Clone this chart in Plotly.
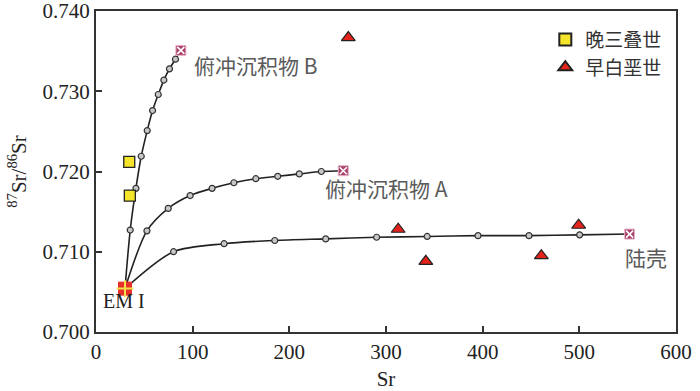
import plotly.graph_objects as go

# 端元
em_x = [30]
em_y = [0.7054]

# 混合曲线 B（EM I -> 俯冲沉积物 B）
b_x = [30, 35.4, 41.3, 46.8, 53.0, 58.5, 64.4, 70.2, 76.0, 82.2, 87.8]
b_y = [0.7054, 0.7127, 0.7179, 0.7219, 0.7251, 0.7276, 0.7296, 0.7314, 0.7328, 0.7340, 0.7351]

# 混合曲线 A（EM I -> 俯冲沉积物 A）
a_x = [30, 52.7, 74.7, 97.4, 120.1, 142.6, 165.3, 188.0, 210.3, 233.1, 255.8]
a_y = [0.7054, 0.7126, 0.7154, 0.7170, 0.7179, 0.7186, 0.7191, 0.7194, 0.7197, 0.7200, 0.7201]

# 混合曲线（EM I -> 陆壳）
c_x = [30, 80.2, 132.5, 184.9, 237.6, 290.3, 342.6, 395.2, 447.9, 500.3, 552]
c_y = [0.7054, 0.7100, 0.7110, 0.7114, 0.7116, 0.7118, 0.7119, 0.7120, 0.7120, 0.7121, 0.7122]

# 样品
tri_x = [261, 312.6, 341.2, 460.7, 499.3]
tri_y = [0.7367, 0.7128, 0.7088, 0.7095, 0.7133]
sq_x = [34.4, 35.0]
sq_y = [0.7212, 0.7170]

x_ticks = [0, 100, 200, 300, 400, 500, 600]
y_ticks = [0.700, 0.710, 0.720, 0.730, 0.740]

serif = "Liberation Serif, Noto Sans CJK SC, serif"
cjk = "Noto Sans CJK SC, serif"

fig = go.Figure()

for xs, ys in [(b_x, b_y), (a_x, a_y), (c_x, c_y)]:
    fig.add_trace(go.Scatter(
        x=xs, y=ys, mode="lines", line=dict(color="#222", width=1.6, shape="spline", smoothing=0.8),
        showlegend=False, hoverinfo="skip"))
    fig.add_trace(go.Scatter(
        x=xs[1:-1], y=ys[1:-1], mode="markers",
        marker=dict(symbol="circle", size=6, color="#c8c8c8", line=dict(color="#333", width=1.2)),
        showlegend=False))
    # 端元标记
    fig.add_trace(go.Scatter(
        x=xs[-1:], y=ys[-1:], mode="markers",
        marker=dict(symbol="square", size=10, color="#a8406a", line=dict(color="#e9b5c9", width=1)),
        showlegend=False))
    fig.add_trace(go.Scatter(
        x=xs[-1:], y=ys[-1:], mode="markers",
        marker=dict(symbol="x-thin", size=7, line=dict(color="white", width=1.6)),
        showlegend=False))

fig.add_trace(go.Scatter(
    x=em_x, y=em_y, mode="markers",
    marker=dict(symbol="square", size=13, color="#e8302a", line=dict(color="#e8302a", width=1)),
    showlegend=False))
fig.add_trace(go.Scatter(
    x=em_x, y=em_y, mode="markers",
    marker=dict(symbol="cross-thin", size=12, line=dict(color="#f3e04a", width=2)),
    showlegend=False))

fig.add_trace(go.Scatter(
    x=sq_x, y=sq_y, mode="markers", name="晚三叠世",
    marker=dict(symbol="square", size=11, color="#f5e52a", line=dict(color="#222", width=1.3))))
fig.add_trace(go.Scatter(
    x=tri_x, y=tri_y, mode="markers", name="早白垩世",
    marker=dict(symbol="triangle-up", size=12, color="#e4241c", line=dict(color="#222", width=1.2))))

labels = [
    (99.6, 0.7333, "俯冲沉积物 B", "left"),
    (235, 0.7180, "俯冲沉积物 A", "left"),
    (545, 0.7093, "陆壳", "left"),
]
for lx, ly, txt, anc in labels:
    fig.add_annotation(x=lx, y=ly, text=txt, showarrow=False, xanchor=anc, yanchor="middle",
                       font=dict(family=cjk, size=21, color="#5a5a5a"))
fig.add_annotation(x=29, y=0.7038, text="EM I", showarrow=False, xanchor="center", yanchor="middle",
                   font=dict(family=serif, size=20, color="#222"))

axis_style = dict(showline=True, linecolor="#333", linewidth=2, mirror=True, ticks="inside",
                  ticklen=6, tickwidth=1.5, tickcolor="#333", showgrid=False, zeroline=False,
                  automargin=False, ticklabeloverflow="allow",
                  tickfont=dict(family=serif, size=21, color="#222"))

fig.update_xaxes(range=[0, 600], tickvals=x_ticks,
                 title=dict(text="Sr", font=dict(family=serif, size=21, color="#222"), standoff=10),
                 **axis_style)
fig.update_yaxes(range=[0.69999, 0.74001], tickvals=y_ticks, tickformat=".3f",
                 title=dict(text="<sup>87</sup>Sr/<sup>86</sup>Sr",
                            font=dict(family=serif, size=21, color="#222"), standoff=10),
                 **axis_style)

fig.update_layout(
    width=700, height=391,
    margin=dict(l=96, r=24, t=11, b=59),
    plot_bgcolor="white", paper_bgcolor="white",
    legend=dict(x=0.985, y=0.97, xanchor="right", yanchor="top", bgcolor="rgba(0,0,0,0)",
                font=dict(family=cjk, size=19, color="#333"), itemsizing="constant",
                tracegroupgap=0),
)

fig.write_html("out.html", config={"displayModeBar": False},
               post_script="document.body.style.margin='0';")
